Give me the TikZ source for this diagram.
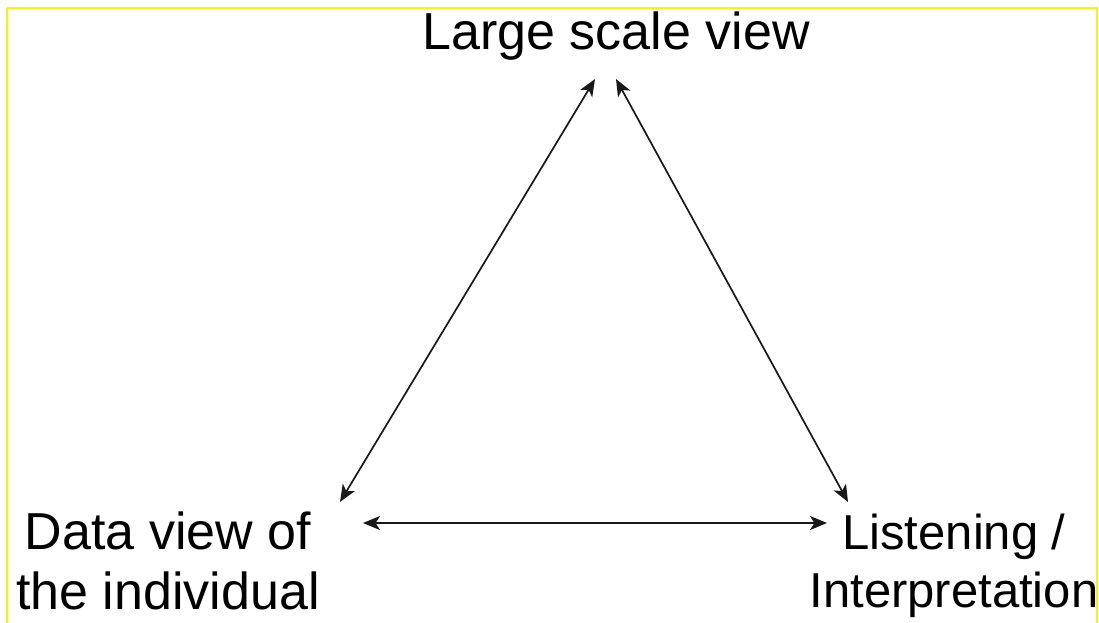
\documentclass[tikz,border=0pt]{standalone}
\usepackage{fontspec}
\setmainfont{Liberation Sans}
\usetikzlibrary{arrows.meta}
\tikzset{
  lbl/.style={inner sep=0pt, align=center, font=\fontsize{52}{60}\selectfont},
  arr/.style={line width=1.7pt, color=black!90, {Stealth[length=17pt,width=14pt,inset=4.5pt]}-{Stealth[length=17pt,width=14pt,inset=4.5pt]}},
  frame/.style={draw=yellow, line width=2pt}
}
\begin{document}
\begin{tikzpicture}[x=1pt,y=-1pt]
\useasboundingbox[fill=white] (0,0) rectangle (1099,623);
\draw[frame] (7,8) -- (1097,8) -- (1097,640) (7,8) -- (7,640);
\node[lbl, anchor=base] (top) at (616,50) {Large scale view};
\node[lbl, anchor=base] (left) at (168,609) {Data view of\\the individual};
\node[lbl, anchor=base, font=\fontsize{49}{58}\selectfont] (right) at (954,607) {Listening /\\Interpretation};
\draw[arr] ([shift={(172,-107)}]left.base) -- ([shift={(-21,29)}]top.base);
\draw[arr] ([shift={(-106,-105)}]right.base) -- ([shift={(0,29)}]top.base);
\draw[arr] ([shift={(195,-86)}]left.base) -- ([shift={(-127,-84)}]right.base);
\end{tikzpicture}
\end{document}
